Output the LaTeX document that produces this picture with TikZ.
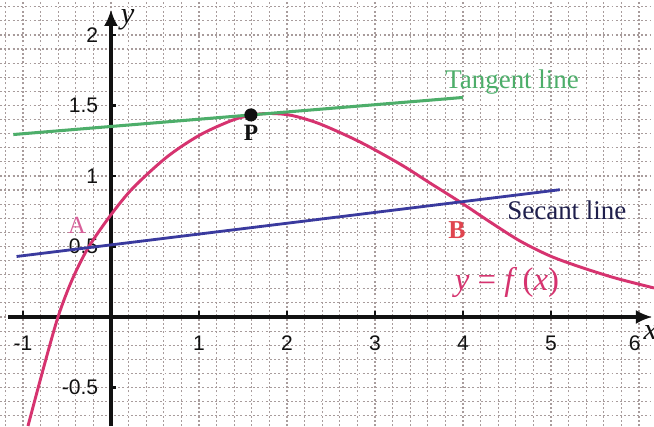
\documentclass[tikz,border=0pt]{standalone}
\usepackage{fontspec}
\setmainfont{Liberation Serif}
\setsansfont{Liberation Sans}
\usetikzlibrary{arrows.meta,calc}
\definecolor{ink}{HTML}{111111}
\definecolor{gridgray}{HTML}{A89C9C}
\definecolor{curvepink}{HTML}{D6336F}
\definecolor{apink}{HTML}{D8609A}
\definecolor{bred}{HTML}{E0454F}
\definecolor{tangreen}{HTML}{4DAE6A}
\definecolor{secblue}{HTML}{3A3A9E}
\definecolor{secnavy}{HTML}{1F1F4C}

\begin{document}
\begin{tikzpicture}[>={Latex[length=7pt,width=6pt]},x=1.32cm,y=2.115cm,
  ticklab/.style={font=\sffamily\fontsize{9}{9}\selectfont,text=ink,inner sep=0pt}]
\useasboundingbox (-1.261,-0.773) rectangle (6.170,2.248);
\fill[white] (-1.261,-0.773) rectangle (6.170,2.248);
\draw[gridgray,line width=0.5pt,dash pattern=on 0.8pt off 1pt,xstep=0.2,ystep=0.1] (-1.261,-0.773) grid (6.170,2.248);
% axes
\coordinate (xl) at (-1.17,0);
\coordinate (xr) at (6.15,0);
\coordinate (yb) at (0,-0.773);
\coordinate (yt) at (0,2.18);
\draw[->,line width=1.3pt,ink] (xl)--(xr);
\draw[->,line width=1.3pt,ink] (yb)--(yt);
\foreach \t in {-1,1,2,3,4,5} {
  \draw[line width=0.9pt,ink] (\t,0)--(\t,0.045);
  \node[ticklab] (xlab\t) at (\t,-0.184) {\t};
}
\node[ticklab] (xlab6) at (5.95,-0.184) {6};
\foreach \t in {-0.5,0.5,1,1.5,2} {
  \draw[line width=0.9pt,ink] (0,\t)--(0.06,\t);
  \node[ticklab,anchor=east] (ylab\t) at (-0.14,\t) {\t};
}
\node[text=ink,font=\fontsize{13}{13}\selectfont\itshape] (xname) at (6.13,-0.11) {x};
\node[text=ink,font=\fontsize{13}{13}\selectfont\itshape] (yname) at (0.19,2.11) {y};
% function
\draw[curvepink,line width=1.25pt] plot[smooth] coordinates {(-0.943,-0.773) (-0.773,-0.376) (-0.602,0) (-0.443,0.262) (-0.261,0.489) (-0.011,0.716) (0.25,0.915) (0.636,1.135) (1.011,1.291) (1.386,1.397) (1.636,1.436) (1.83,1.443) (2.057,1.429) (2.375,1.369) (2.83,1.241) (3.284,1.085) (3.625,0.950) (3.966,0.816) (4.307,0.674) (4.648,0.539) (4.989,0.433) (5.33,0.355) (5.727,0.277) (6.17,0.206)};
% secant through A and B
\coordinate (A) at (-0.28,0.49);
\coordinate (B) at (3.97,0.816);
\draw[secblue,line width=1.2pt] ($(A)!-0.1865!(B)$)--($(A)!1.266!(B)$);
% tangent at P
\coordinate (P) at (1.59,1.433);
\coordinate (t1) at (-1.11,1.294);
\coordinate (t2) at (4.0,1.557);
\draw[tangreen,line width=1.3pt] (t1)--(t2);
\fill[ink] (P) circle (2.8pt);
\node[text=ink,font=\fontsize{10}{10}\selectfont\bfseries] (plab) at (1.59,1.305) {P};
\node[text=apink,font=\fontsize{10.5}{10.5}\selectfont] (alab) at (-0.386,0.652) {A};
\node[text=bred,font=\fontsize{11}{11}\selectfont\bfseries] (blab) at (3.93,0.617) {B};
\node[text=curvepink,font=\fontsize{14}{14}\selectfont] (flab) at (4.5,0.248) {\textit{y} = \textit{f}\,(\textit{x})};
\node[text=tangreen,font=\fontsize{11.5}{11.5}\selectfont] (tlab) at (4.557,1.667) {Tangent line};
\node[text=secnavy,font=\fontsize{11.5}{11.5}\selectfont] (slab) at (5.18,0.759) {Secant line};
\end{tikzpicture}
\end{document}
